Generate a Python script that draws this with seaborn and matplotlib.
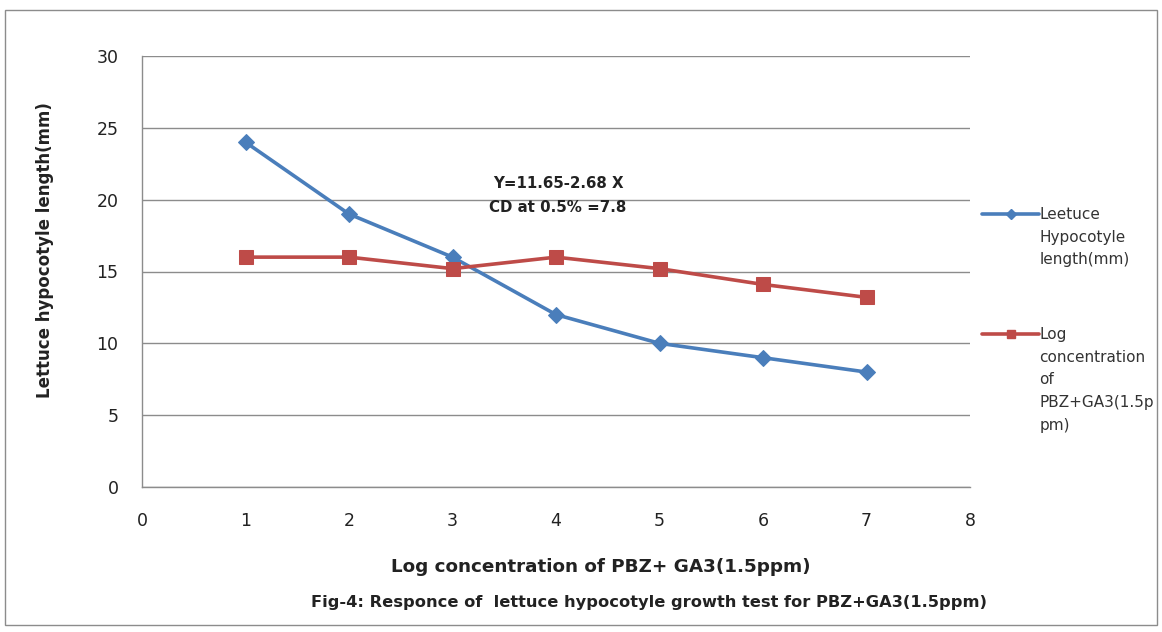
import matplotlib
matplotlib.use("Agg")
import matplotlib.pyplot as plt
import seaborn as sns
import pandas as pd
from matplotlib.lines import Line2D
from matplotlib.patches import Rectangle

# ---- data ----
x_vals = [1, 2, 3, 4, 5, 6, 7]
hypocotyl_len = [24, 19, 16, 12, 10, 9, 8]
log_conc = [16, 16, 15.2, 16, 15.2, 14.1, 13.2]
x_ticks = [0, 1, 2, 3, 4, 5, 6, 7, 8]
y_ticks = [0, 5, 10, 15, 20, 25, 30]
label_blue = ["Leetuce", "Hypocotyle", "length(mm)"]
label_red = ["Log", "concentration", "of", "PBZ+GA3(1.5p", "pm)"]
x_title = "Log concentration of PBZ+ GA3(1.5ppm)"
y_title = "Lettuce hypocotyle length(mm)"
caption = "Fig-4: Responce of  lettuce hypocotyle growth test for PBZ+GA3(1.5ppm)"
eq_lines = ["Y=11.65-2.68 X", "CD at 0.5% =7.8"]

BLUE = "#4A7EBB"
RED = "#BE4B48"
GRID = "#8C8C8C"
TXT = "#222222"

sns.set_theme(style="white")
plt.rcParams["font.family"] = ["DejaVu Sans"]

W, H = 1162, 632
fig = plt.figure(figsize=(W / 100, H / 100), dpi=100)
ax = fig.add_axes([142 / W, 1 - 487 / H, (970 - 142) / W, (487 - 56) / H])

df = pd.DataFrame({"x": x_vals, "blue": hypocotyl_len, "red": log_conc})
sns.lineplot(data=df, x="x", y="blue", ax=ax, color=BLUE, linewidth=2.6,
             marker="D", markersize=8, markeredgecolor=BLUE, zorder=3)
sns.lineplot(data=df, x="x", y="red", ax=ax, color=RED, linewidth=2.6,
             marker="s", markersize=10, markeredgecolor=RED, zorder=3)

ax.set_xlim(0, 8)
ax.set_ylim(0, 30)
ax.set_xticks(x_ticks)
ax.set_yticks(y_ticks)
ax.set_xlabel("")
ax.set_ylabel("")
ax.tick_params(axis="both", length=0, labelsize=12.5, colors=TXT)
ax.tick_params(axis="x", pad=18)
ax.tick_params(axis="y", pad=17)
ax.yaxis.grid(True, color=GRID, linewidth=1)
ax.xaxis.grid(False)
for s in ["top", "right"]:
    ax.spines[s].set_visible(False)
for s in ["left", "bottom"]:
    ax.spines[s].set_color(GRID)
    ax.spines[s].set_linewidth(1)

# annotation
fig.text(558 / W, 1 - 183 / H, eq_lines[0], ha="center", va="center",
         fontsize=10.8, fontweight="bold", color=TXT)
fig.text(558 / W, 1 - 207 / H, eq_lines[1], ha="center", va="center",
         fontsize=10.8, fontweight="bold", color=TXT)

# legends
blank = Line2D([], [], linestyle="none")
h_blue = [Line2D([], [], color=BLUE, linewidth=2.6, marker="D", markersize=5)]
h_blue += [blank] * (len(label_blue) - 1)
h_red = [Line2D([], [], color=RED, linewidth=2.6, marker="s", markersize=6)]
h_red += [blank] * (len(label_red) - 1)
common = dict(loc="upper left", bbox_transform=fig.transFigure, frameon=False,
              fontsize=11, handlelength=3.75, handletextpad=0.0,
              labelspacing=0.5, borderpad=0, borderaxespad=0)
leg1 = ax.legend(h_blue, label_blue, bbox_to_anchor=(982 / W, 1 - 207 / H), **common)
ax.add_artist(leg1)
leg2 = ax.legend(h_red, label_red, bbox_to_anchor=(982 / W, 1 - 327 / H), **common)
for lg in (leg1, leg2):
    for t in lg.get_texts():
        t.set_color("#333333")

# axis titles / caption
fig.text(45 / W, 1 - 250 / H, y_title, rotation=90, ha="center", va="center",
         fontsize=12, fontweight="bold", color=TXT)
fig.text(601 / W, 1 - 567 / H, x_title, ha="center", va="center",
         fontsize=13.2, fontweight="bold", color=TXT)
fig.text(649 / W, 1 - 603 / H, caption, ha="center", va="center",
         fontsize=11.7, fontweight="bold", color=TXT)

fig.patches.append(Rectangle((5 / W, 1 - 625 / H), 1152 / W, 615 / H,
                             transform=fig.transFigure, fill=False,
                             edgecolor=GRID, linewidth=1))

fig.savefig("out.png", dpi=100)
